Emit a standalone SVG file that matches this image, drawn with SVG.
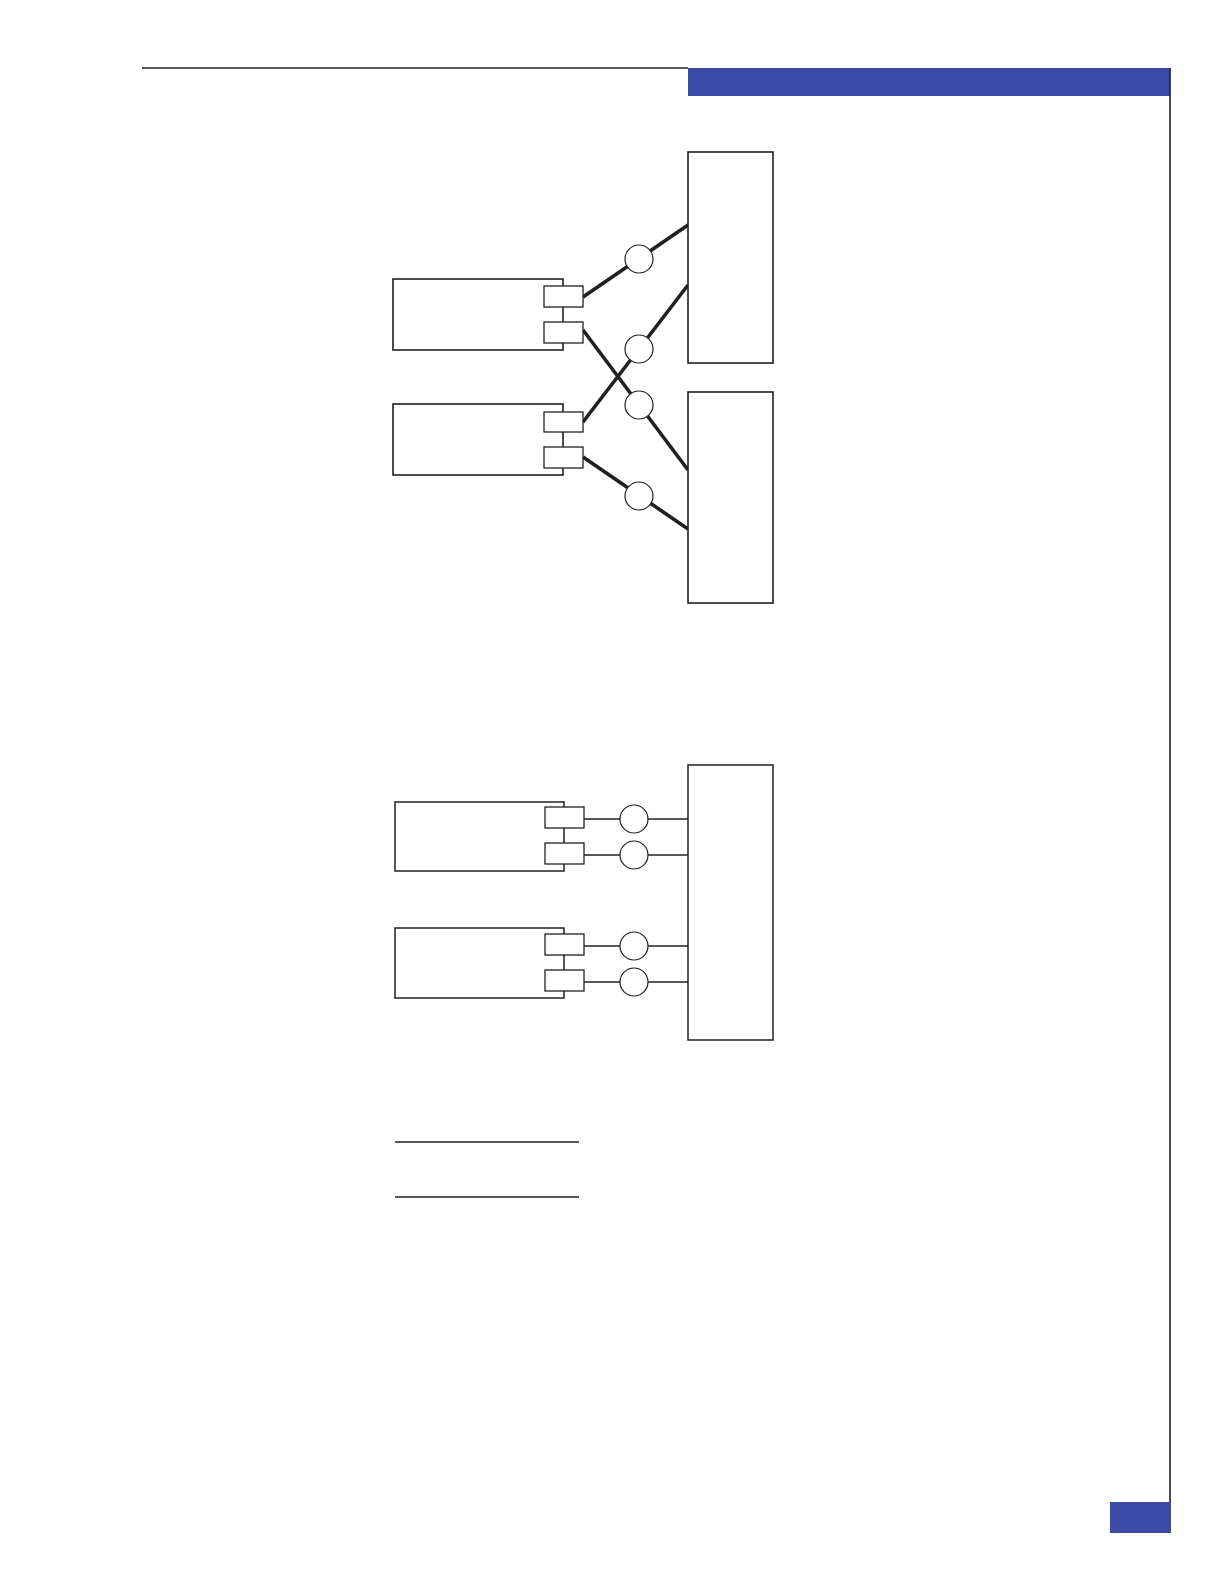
<svg xmlns="http://www.w3.org/2000/svg" width="1224" height="1584" viewBox="0 0 1224 1584">
<style>
.bx{fill:#fff;stroke:#231f20;stroke-width:1.6}
.bx2{fill:#fff;stroke:#231f20;stroke-width:1.5}
.pt{fill:#fff;stroke:#231f20;stroke-width:1.3}
.ci{fill:#fff;stroke:#231f20;stroke-width:1.2}
.thick{stroke:#231f20;stroke-width:3.6;fill:none}
.thin{stroke:#231f20;stroke-width:1.3;fill:none}
.bar{fill:#3a4aa6}
</style>
<rect width="1224" height="1584" fill="#fff"/>
<g id="page-frame">
<line x1="142" y1="68" x2="688" y2="68" stroke="#231f20" stroke-width="1.3"/>
<rect class="bar" x="688" y="68" width="482" height="28"/>
<line x1="1170" y1="68" x2="1170" y2="1533" stroke="#231f20" stroke-width="1.6"/>
<rect class="bar" x="1110" y="1502" width="60" height="31"/>
</g>
<g id="connectors">
<line class="thick" x1="583" y1="297" x2="688" y2="225"/>
<line class="thick" x1="583" y1="422" x2="688" y2="285"/>
<line class="thick" x1="583" y1="330" x2="688" y2="470"/>
<line class="thick" x1="583" y1="457" x2="688" y2="529"/>
<line class="thin" x1="584" y1="819" x2="688" y2="819"/>
<line class="thin" x1="584" y1="855" x2="688" y2="855"/>
<line class="thin" x1="584" y1="946" x2="688" y2="946"/>
<line class="thin" x1="584" y1="982" x2="688" y2="982"/>
</g>
<g id="top-right-1"><rect class="bx" x="688" y="152" width="85" height="211"/></g>
<g id="top-right-2"><rect class="bx" x="688" y="392" width="85" height="211"/></g>
<g id="top-left-1">
<rect class="bx" x="393" y="279" width="170" height="71"/>
<rect class="pt" x="544" y="286" width="39" height="21"/>
<rect class="pt" x="544" y="322" width="39" height="21"/>
</g>
<g id="top-left-2">
<rect class="bx" x="393" y="404" width="170" height="71"/>
<rect class="pt" x="544" y="412" width="39" height="20"/>
<rect class="pt" x="544" y="447" width="39" height="21"/>
</g>
<g id="top-circles">
<circle class="ci" cx="639" cy="259" r="14"/>
<circle class="ci" cx="639" cy="349" r="14"/>
<circle class="ci" cx="639" cy="405" r="14"/>
<circle class="ci" cx="639" cy="496" r="14"/>
</g>
<g id="bottom-right"><rect class="bx2" x="688" y="765" width="85" height="275"/></g>
<g id="bottom-left-1">
<rect class="bx2" x="395" y="802" width="169" height="69"/>
<rect class="pt" x="545" y="807" width="39" height="21"/>
<rect class="pt" x="545" y="843" width="39" height="21"/>
</g>
<g id="bottom-left-2">
<rect class="bx2" x="395" y="928" width="169" height="70"/>
<rect class="pt" x="545" y="934" width="39" height="21"/>
<rect class="pt" x="545" y="970" width="39" height="21"/>
</g>
<g id="bottom-circles">
<circle class="ci" cx="634" cy="819" r="14"/>
<circle class="ci" cx="634" cy="855" r="14"/>
<circle class="ci" cx="634" cy="946" r="14"/>
<circle class="ci" cx="634" cy="982" r="14"/>
</g>
<g id="rules">
<line x1="395" y1="1142" x2="579" y2="1142" stroke="#231f20" stroke-width="1.3"/>
<line x1="395" y1="1197" x2="579" y2="1197" stroke="#231f20" stroke-width="1.3"/>
</g>
</svg>
